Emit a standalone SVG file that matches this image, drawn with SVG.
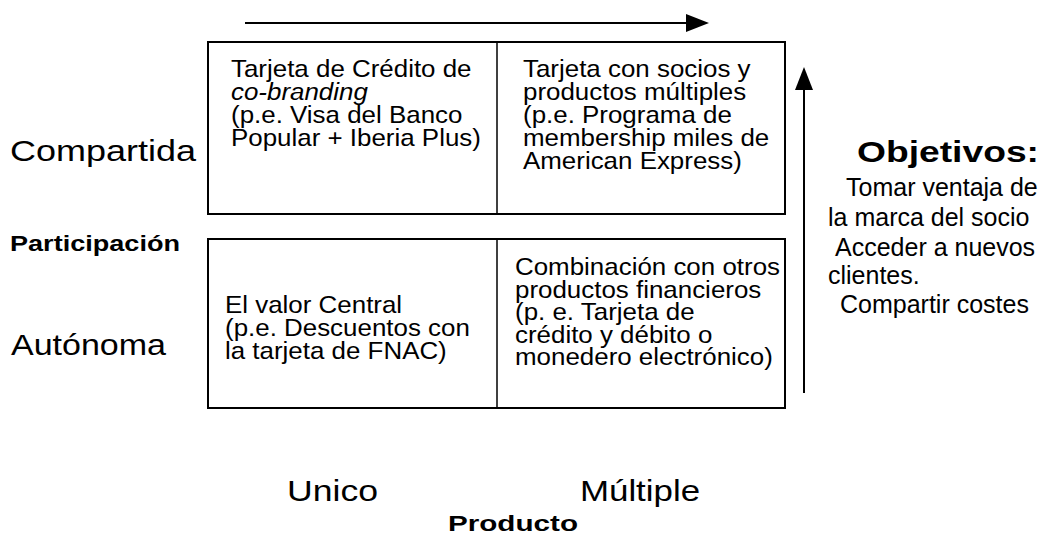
<svg xmlns="http://www.w3.org/2000/svg" width="1054" height="546" viewBox="0 0 1054 546">
<style>
  .box { fill: none; stroke: #000; stroke-width: 2; }
  .div { stroke: #000; stroke-width: 1.5; }
  .ln { stroke: #000; stroke-width: 2; fill: none; }
  .hd { fill: #000; }
  text { font-family: "Liberation Sans", Arial, sans-serif; fill: #000; }
  .cell { font-size: 24px; }
  .axis { font-size: 30px; }
  .lab { font-size: 22px; font-weight: bold; }
  .obj { font-size: 25px; }
</style>
<rect width="1054" height="546" fill="#fff"/>
<g id="connectors">
  <line class="ln" x1="245" y1="23" x2="690" y2="23"/>
  <polygon class="hd" points="709,23 686,14 686,32"/>
  <line class="ln" x1="804" y1="393" x2="804" y2="86"/>
  <polygon class="hd" points="804,67 795,90 813,90"/>
</g>
<g id="top-box">
  <rect class="box" x="208" y="42" width="577" height="172"/>
  <line class="div" x1="497" y1="42" x2="497" y2="214"/>
</g>
<g id="cell-cobranding" transform="translate(231 0) scale(1.08 1)">
  <text class="cell" x="0" y="77">Tarjeta de Crédito de</text>
  <text class="cell" x="0" y="100" font-style="italic">co-branding</text>
  <text class="cell" x="0" y="123">(p.e. Visa del Banco</text>
  <text class="cell" x="0" y="146">Popular + Iberia Plus)</text>
</g>
<g id="cell-socios" transform="translate(523 0) scale(1.08 1)">
  <text class="cell" x="0" y="77">Tarjeta con socios y</text>
  <text class="cell" x="0" y="100">productos múltiples</text>
  <text class="cell" x="0" y="123">(p.e. Programa de</text>
  <text class="cell" x="0" y="146">membership miles de</text>
  <text class="cell" x="0" y="169">American Express)</text>
</g>
<g id="bottom-box">
  <rect class="box" x="208" y="239" width="577" height="169"/>
  <line class="div" x1="497" y1="239" x2="497" y2="408"/>
</g>
<g id="cell-central" transform="translate(225 0) scale(1.08 1)">
  <text class="cell" x="0" y="313">El valor Central</text>
  <text class="cell" x="0" y="336">(p.e. Descuentos con</text>
  <text class="cell" x="0" y="359">la tarjeta de FNAC)</text>
</g>
<g id="cell-combinacion" transform="translate(515 0) scale(1.08 1)">
  <text class="cell" x="0" y="275">Combinación con otros</text>
  <text class="cell" x="0" y="298">productos  financieros</text>
  <text class="cell" x="0" y="320">(p. e. Tarjeta de</text>
  <text class="cell" x="0" y="343">crédito y débito o</text>
  <text class="cell" x="0" y="365">monedero electrónico)</text>
</g>
<g id="row-labels">
  <text class="axis" x="10" y="161" textLength="186" lengthAdjust="spacingAndGlyphs">Compartida</text>
  <text class="lab" x="10" y="251" textLength="170" lengthAdjust="spacingAndGlyphs">Participación</text>
  <text class="axis" x="11" y="355" textLength="155" lengthAdjust="spacingAndGlyphs">Autónoma</text>
</g>
<g id="objetivos">
  <text x="857" y="162" font-size="30" font-weight="bold" textLength="182" lengthAdjust="spacingAndGlyphs">Objetivos:</text>
  <text class="obj" x="846" y="196">Tomar ventaja de</text>
  <text class="obj" x="828" y="226">la marca del socio</text>
  <text class="obj" x="835" y="256"> Acceder a nuevos</text>
  <text class="obj" x="828" y="284">clientes.</text>
  <text class="obj" x="840" y="313">Compartir costes</text>
</g>
<g id="col-labels">
  <text class="axis" x="287" y="501" textLength="91" lengthAdjust="spacingAndGlyphs">Unico</text>
  <text class="axis" x="580" y="501" textLength="120" lengthAdjust="spacingAndGlyphs">Múltiple</text>
  <text class="lab" x="448" y="531" textLength="130" lengthAdjust="spacingAndGlyphs">Producto</text>
</g>
</svg>
